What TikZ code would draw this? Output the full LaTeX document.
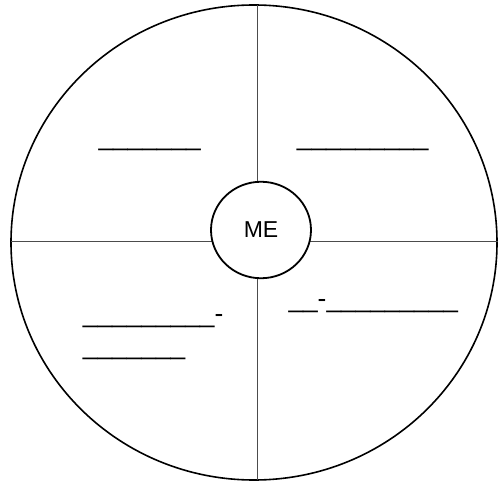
\documentclass[tikz,border=0pt]{standalone}
\usepackage{fontspec}
\setmainfont{Liberation Sans}
\usetikzlibrary{shapes.geometric}

\begin{document}
\begin{tikzpicture}[x=1pt, y=-1pt,
    blank/.style={inner sep=0pt, anchor=base west, font=\fontsize{26.3}{32.3}\selectfont},
    spoke/.style={line width=1pt, black!70}]
  \useasboundingbox (0,0) rectangle (498,481);
  % outer ring
  \node[ellipse, draw, line width=1.6pt, inner sep=0pt,
        minimum width=486pt, minimum height=475pt] (rim) at (254,242.5) {};
  \coordinate (top) at (257,5.2);
  \coordinate (bottom) at (257,479.8);
  \coordinate (left) at (11,241.7);
  \coordinate (right) at (498,241.7);
  \draw[spoke] (top) -- (bottom);
  \draw[spoke] (left) -- (right);
  % centre
  \node[ellipse, draw, fill=white, line width=1.8pt, inner sep=0pt,
        minimum width=100pt, minimum height=96.5pt,
        font=\fontsize{23}{28}\selectfont] (me) at (261,230) {ME};
  % blanks
  \node[blank] (nw) at (98.3,145.3) {\_\_\_\_\_\_\_};
  \node[blank] (ne) at (296.7,145.3) {\_\_\_\_\_\_\_\_\_};
  \node[blank] (sw1) at (82.7,322) {\_\_\_\_\_\_\_\_\_-};
  \node[blank] (sw2) at (82.7,354.3) {\_\_\_\_\_\_\_};
  \node[blank] (se) at (288.3,307.6) {\_\_-\_\_\_\_\_\_\_\_\_};
\end{tikzpicture}
\end{document}
